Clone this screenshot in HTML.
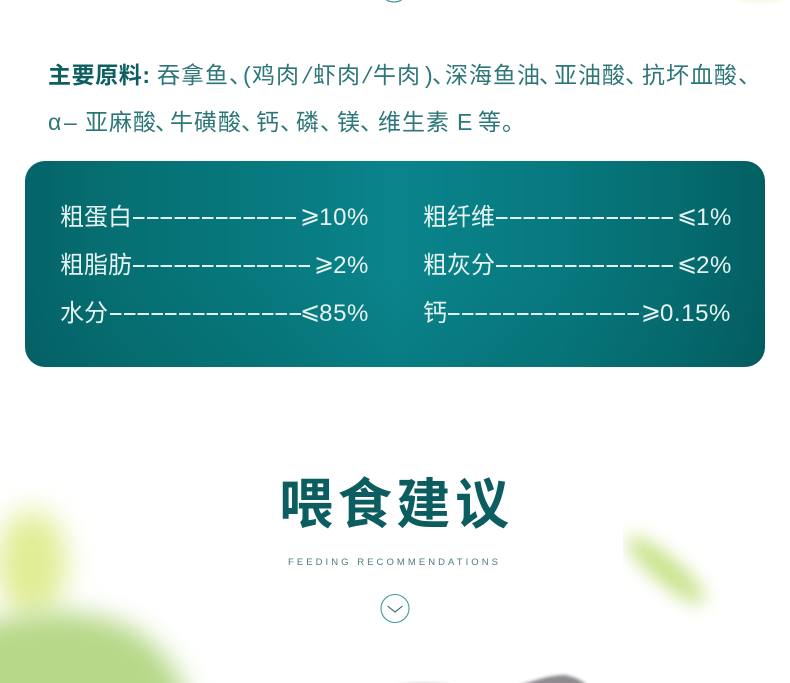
<!DOCTYPE html>
<html lang="zh-CN">
<head>
<meta charset="utf-8">
<title>喂食建议</title>
<style>
html,body{margin:0;padding:0;background:#fff}
#page{position:relative;width:790px;height:683px;overflow:hidden;background:#fff;font-family:"Liberation Sans","Noto Sans CJK SC",sans-serif}
.abs{position:absolute;white-space:nowrap}
.ing{position:absolute;white-space:nowrap;color:#2d7679;font-size:23px;line-height:32px;letter-spacing:1px}
.l1{top:59px}
.l2{top:106px}
.slash{letter-spacing:0;transform:skewX(-14deg);transform-origin:center center}
#card{position:absolute;left:25px;top:161px;width:740px;height:206px;border-radius:20px;background:linear-gradient(180deg,rgba(0,70,70,0) 55%,rgba(0,70,70,.12) 100%),linear-gradient(90deg,#04646a 0%,#066f72 12%,#07797e 32%,#0a848b 50%,#07797f 72%,#056c70 88%,#035f62 100%)}
.lab,.val{position:absolute;color:#e6f3f2;font-size:24px;line-height:32px;white-space:nowrap}
.val{text-align:right;letter-spacing:.6px}
.val span{font-size:24px;position:relative;top:-2px;letter-spacing:-1px}
.dash{position:absolute;height:2px;background:repeating-linear-gradient(90deg,#e2f2f1 0,#e2f2f1 11.5px,transparent 11.5px,transparent 13.8px)}
</style>
</head>
<body>
<div id="page">
<svg class="abs" style="left:0;top:0" width="790" height="683">
<defs>
<filter id="b13" x="-60%" y="-60%" width="220%" height="220%"><feGaussianBlur stdDeviation="14"/></filter>
<filter id="b11" x="-50%" y="-50%" width="200%" height="200%"><feGaussianBlur stdDeviation="13"/></filter>
<filter id="b8" x="-60%" y="-120%" width="220%" height="340%"><feGaussianBlur stdDeviation="9"/></filter>
<filter id="b1" x="-50%" y="-100%" width="200%" height="300%"><feGaussianBlur stdDeviation="1.6"/></filter>
<clipPath id="rc"><rect x="623" y="520" width="167" height="120"/></clipPath>
</defs>
<ellipse cx="32" cy="564" rx="35" ry="54" fill="#e1ed96" filter="url(#b13)"/>
<path d="M-30 628 C30 608 90 606 135 630 C162 648 182 672 190 710 L-30 710 Z" fill="#b7d888" filter="url(#b11)"/>
<g clip-path="url(#rc)">
<ellipse cx="666" cy="570" rx="50" ry="13" transform="rotate(40 666 570)" fill="#c8e288" filter="url(#b8)"/>
</g>
<ellipse cx="760" cy="-1" rx="25" ry="3" fill="#f4f6e2" filter="url(#b1)"/>
<path d="M518 686 C532 681 550 675 565 675 C575 677 583 681 588 686 Z" fill="#7b767d" opacity="0.85" filter="url(#b1)"/>
<ellipse cx="425" cy="685" rx="26" ry="2" fill="#d2d0d2" filter="url(#b1)"/>
<circle cx="394" cy="-12" r="14" fill="none" stroke="#3f9a9e" stroke-width="1.2"/>
</svg>

<div class="abs" style="left:48px;top:59px;font-size:23px;line-height:32px;font-weight:700;color:#0d5f61;letter-spacing:.6px">主要原料:</div>
<div class="ing l1" style="left:157px">吞拿鱼</div>
<div class="ing l1" style="left:229px">、</div>
<div class="ing l1" style="left:243px;letter-spacing:0">(</div>
<div class="ing l1" style="left:252px">鸡肉</div>
<div class="ing l1 slash" style="left:304px">/</div>
<div class="ing l1" style="left:313px">虾肉</div>
<div class="ing l1 slash" style="left:364px">/</div>
<div class="ing l1" style="left:373px">牛肉</div>
<div class="ing l1" style="left:425px;letter-spacing:0">)</div>
<div class="ing l1" style="left:432px">、</div>
<div class="ing l1" style="left:445px">深海鱼油</div>
<div class="ing l1" style="left:539px">、</div>
<div class="ing l1" style="left:554px">亚油酸</div>
<div class="ing l1" style="left:625px">、</div>
<div class="ing l1" style="left:642px">抗坏血酸</div>
<div class="ing l1" style="left:738px">、</div>

<div class="ing l2" style="left:48px;letter-spacing:0">α</div>
<div class="ing l2" style="left:64px;letter-spacing:0">–</div>
<div class="ing l2" style="left:85px">亚麻酸</div>
<div class="ing l2" style="left:155px">、</div>
<div class="ing l2" style="left:170px">牛磺酸</div>
<div class="ing l2" style="left:241px">、</div>
<div class="ing l2" style="left:256px">钙</div>
<div class="ing l2" style="left:280px">、</div>
<div class="ing l2" style="left:296px">磷</div>
<div class="ing l2" style="left:320px">、</div>
<div class="ing l2" style="left:337px">镁</div>
<div class="ing l2" style="left:360px">、</div>
<div class="ing l2" style="left:378px">维生素</div>
<div class="ing l2" style="left:457px;letter-spacing:0">E</div>
<div class="ing l2" style="left:478px">等。</div>

<div id="card"></div>

<div class="lab" style="left:60px;top:202px">粗蛋白</div>
<div class="dash" style="left:133px;top:217px;width:163px"></div>
<div class="val" style="right:421px;top:202px"><span>⩾</span>10%</div>

<div class="lab" style="left:60px;top:250px">粗脂肪</div>
<div class="dash" style="left:133px;top:265px;width:178px"></div>
<div class="val" style="right:421px;top:250px"><span>⩾</span>2%</div>

<div class="lab" style="left:60px;top:298px">水分</div>
<div class="dash" style="left:110px;top:313px;width:191px"></div>
<div class="val" style="right:421px;top:298px"><span>⩽</span>85%</div>

<div class="lab" style="left:423px;top:202px">粗纤维</div>
<div class="dash" style="left:496px;top:217px;width:178px"></div>
<div class="val" style="right:58px;top:202px"><span>⩽</span>1%</div>

<div class="lab" style="left:423px;top:250px">粗灰分</div>
<div class="dash" style="left:496px;top:265px;width:178px"></div>
<div class="val" style="right:58px;top:250px"><span>⩽</span>2%</div>

<div class="lab" style="left:423px;top:298px">钙</div>
<div class="dash" style="left:448px;top:313px;width:191px"></div>
<div class="val" style="right:59px;top:298px"><span>⩾</span>0.15%</div>

<div class="abs" style="left:279px;top:465px;font-size:54px;line-height:80px;font-weight:700;letter-spacing:4.7px;color:#0c5d60">喂食建议</div>
<div class="abs" style="left:288px;top:556px;font-size:9.5px;line-height:14px;letter-spacing:3.05px;color:#4b7c7e">FEEDING RECOMMENDATIONS</div>

<svg class="abs" style="left:378px;top:592px" width="34" height="34">
<circle cx="17" cy="16.5" r="14" fill="#fff" stroke="#3f9a9e" stroke-width="1.1"/>
<path d="M9.5 14 L17 20 L24.5 14" fill="none" stroke="#2c6668" stroke-width="1.1"/>
</svg>
</div>
</body>
</html>
